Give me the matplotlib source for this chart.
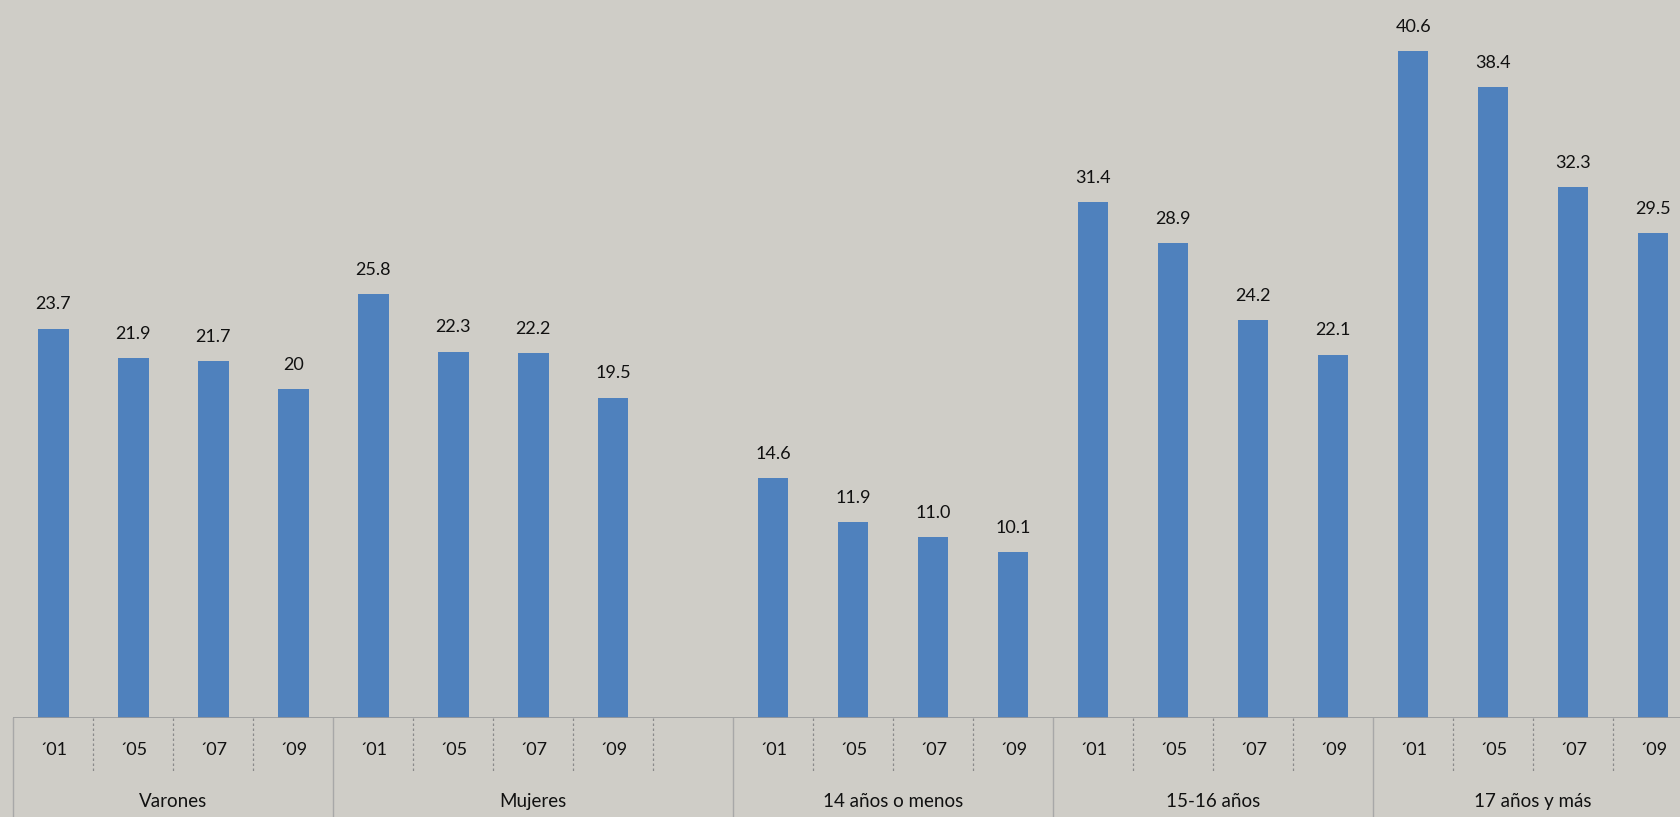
import numpy as np
import matplotlib.pyplot as plt
import matplotlib.transforms as mtransforms

# Datos
grupos = ["Varones", "Mujeres", "14 años o menos", "15-16 años", "17 años y más"]
anios = ["´01", "´05", "´07", "´09"]
varones = [23.7, 21.9, 21.7, 20]
mujeres = [25.8, 22.3, 22.2, 19.5]
menos14 = [14.6, 11.9, 11.0, 10.1]
de15a16 = [31.4, 28.9, 24.2, 22.1]
mas17 = [40.6, 38.4, 32.3, 29.5]
etiquetas = ["23.7", "21.9", "21.7", "20", "25.8", "22.3", "22.2", "19.5",
             "14.6", "11.9", "11.0", "10.1", "31.4", "28.9", "24.2", "22.1",
             "40.6", "38.4", "32.3", "29.5"]

series = [varones, mujeres, menos14, de15a16, mas17]
# Mujeres lleva una casilla vacía al final
casillas = [4, 5, 4, 4, 4]

fondo = "#cfcdc7"
azul = "#4f81bd"

fig = plt.figure(figsize=(16.81, 8.17), dpi=100, facecolor=fondo)
ax = fig.add_axes([0.008, 0.1212, 0.992, 0.8788])
ax.set_facecolor(fondo)

# Posiciones de las barras por grupo
x = []
inicio = 0
limites = [-0.5]
for g, n in zip(series, casillas):
    x.extend(inicio + np.arange(len(g)))
    inicio += n
    limites.append(inicio - 0.5)
x = np.array(x, dtype=float)
valores = np.concatenate(series)
textos_anio = anios * len(series)

ax.bar(x, valores, width=0.38, color=azul, zorder=2)
for xi, v, t in zip(x, valores, etiquetas):
    ax.text(xi, v + 1.0, t, ha="center", va="bottom", fontsize=13,
            family="Lato", color="#111111")

ax.set_xlim(-0.5, 20.35)
ax.set_ylim(0, 43.7)
ax.set_xticks([])
ax.set_yticks([])
for s in ax.spines.values():
    s.set_visible(False)
ax.axhline(0, color="#9a9a9a", lw=1.2, zorder=3)

trans = mtransforms.blended_transform_factory(ax.transData, ax.transAxes)
fila1 = -0.075
fila2 = -0.14

# Etiquetas de años
for xi, t in zip(x, textos_anio):
    ax.text(xi, -0.045, t, transform=trans, ha="center", va="center",
            fontsize=13, family="Lato", color="#111111")

# Separadores punteados entre años
for b in np.arange(-0.5, 21, 1.0):
    if b in limites:
        continue
    ax.plot([b, b], [0, fila1], transform=trans, color="#8a8a8a", lw=0.9,
            ls=(0, (2, 2)), clip_on=False)

# Separadores entre grupos
for b in limites:
    ax.plot([b, b], [0, fila2], transform=trans, color="#a8a8a8", lw=1.0,
            clip_on=False)

# Nombres de grupos
for i, nombre in enumerate(grupos):
    centro = (limites[i] + limites[i + 1]) / 2
    ax.text(centro, -0.117, nombre, transform=trans, ha="center", va="center",
            fontsize=13.5, family="Lato", color="#111111")

fig.savefig("out.png", dpi=100, facecolor=fondo)
